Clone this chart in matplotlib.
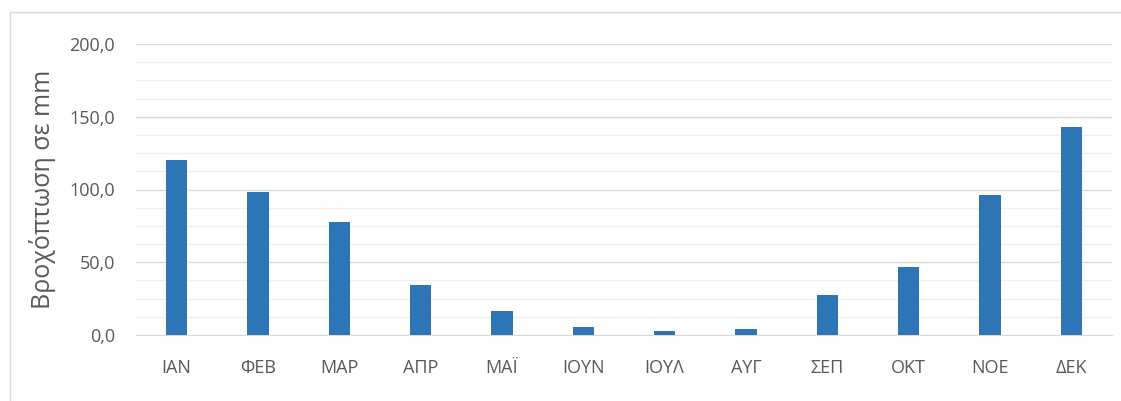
import matplotlib.pyplot as plt
from matplotlib.patches import Rectangle
from matplotlib.ticker import MultipleLocator, FuncFormatter

plt.rcParams['font.family'] = ['Open Sans', 'DejaVu Sans']

months = ["ΙΑΝ", "ΦΕΒ", "ΜΑΡ", "ΑΠΡ", "ΜΑΪ", "ΙΟΥΝ", "ΙΟΥΛ", "ΑΥΓ", "ΣΕΠ", "ΟΚΤ", "ΝΟΕ", "ΔΕΚ"]
rain_mm = [120.0, 98.0, 77.5, 34.5, 16.8, 5.8, 3.0, 4.3, 27.7, 47.0, 96.5, 143.2]

fig = plt.figure(figsize=(11.21, 4.01), dpi=100)
ax = fig.add_axes([136 / 1121, 1 - 335 / 401, 976 / 1121, 291 / 401])

# outer chart frame
fig.patches.append(Rectangle((10 / 1121, -0.05), 1.2, 1 - 12 / 401 + 0.05,
                             transform=fig.transFigure, fill=False,
                             edgecolor="#d9d9d9", linewidth=1))

ax.bar(range(len(months)), rain_mm, width=0.26, color="#2e75b6", zorder=3)

ax.set_xlim(-0.5, len(months) - 0.5)
ax.set_ylim(0, 200)
ax.yaxis.set_major_locator(MultipleLocator(50))
ax.yaxis.set_minor_locator(MultipleLocator(12.5))
ax.yaxis.set_major_formatter(FuncFormatter(lambda v, p: f"{v:.1f}".replace(".", ",")))
ax.grid(axis="y", which="major", color="#d9d9d9", linewidth=1, zorder=0)
ax.grid(axis="y", which="minor", color="#f0f0f0", linewidth=1, zorder=0)

ax.set_xticks(range(len(months)))
ax.set_xticklabels(months)
ax.tick_params(axis="both", which="both", length=0, labelsize=13, colors="#595959")
ax.tick_params(axis="x", pad=17)
ax.tick_params(axis="y", pad=15)

for s in ["top", "left", "right"]:
    ax.spines[s].set_visible(False)
ax.spines["bottom"].set_color("#d9d9d9")

ax.set_ylabel("Βροχόπτωση σε mm", fontsize=18, color="#595959", labelpad=10)

fig.savefig("out.png", dpi=100)
